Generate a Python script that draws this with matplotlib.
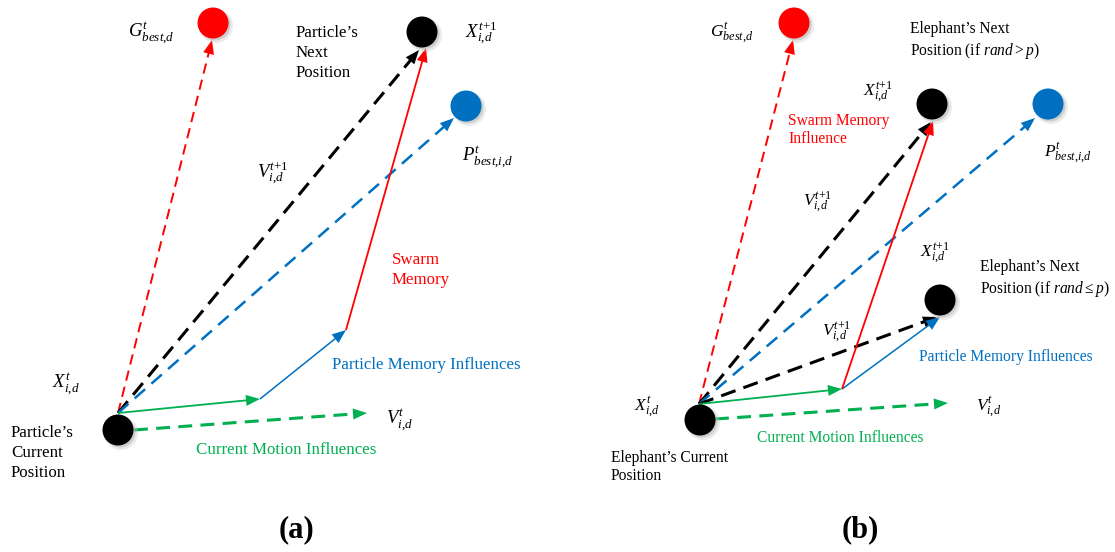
import matplotlib.pyplot as plt
import numpy as np
from matplotlib.patches import Circle, Polygon

plt.rcParams['font.family'] = 'Liberation Serif'
plt.rcParams['mathtext.fontset'] = 'custom'
plt.rcParams['mathtext.rm'] = 'Liberation Serif'
plt.rcParams['mathtext.it'] = 'Liberation Serif:italic'
plt.rcParams['mathtext.bf'] = 'Liberation Serif:bold'
plt.rcParams['lines.scale_dashes'] = False

RED = '#FF0000'
BLUE = '#0070C0'
GREEN = '#00B050'
BLACK = '#000000'

# ---- panel (a): PSO, pixel positions ----
a_nodes = {'current': (118, 430), 'gbest': (213, 23), 'next': (422, 32), 'pbest': (466, 106)}
a_node_colors = {'current': BLACK, 'gbest': RED, 'next': BLACK, 'pbest': BLUE}
a_origin = (118, 413)
a_inertia_end = (260, 399)
a_cognitive_end = (346, 330)
# (start, tip, color, dashed)
a_arrows = [
    (a_origin, (212, 40), RED, True),
    (a_origin, (419, 50), BLACK, True),
    (a_origin, (454, 118), BLUE, True),
    (a_origin, a_inertia_end, GREEN, False),
    (a_inertia_end, a_cognitive_end, BLUE, False),
    (a_cognitive_end, (426, 48), RED, False),
    ((134, 430), (367, 413), GREEN, True),
]

# ---- panel (b): EHO-style variant ----
b_nodes = {'current': (700, 420), 'gbest': (794, 23), 'next': (932, 104),
           'pbest': (1048, 104), 'next2': (940, 300)}
b_node_colors = {'current': BLACK, 'gbest': RED, 'next': BLACK, 'pbest': BLUE, 'next2': BLACK}
b_origin = (699, 404)
b_inertia_end = (842, 389)
b_arrows = [
    (b_origin, (793, 40), RED, True),
    (b_origin, (931, 122), BLACK, True),
    (b_origin, (1035, 118), BLUE, True),
    (b_origin, (937, 317), BLACK, True),
    (b_origin, b_inertia_end, GREEN, False),
    (b_inertia_end, (940, 317), BLUE, False),
    (b_inertia_end, (933, 121), RED, False),
    ((715, 419), (948, 403), GREEN, True),
]

# line widths / dash patterns per colour (points)
dash_style = {RED: (1.4, (7.5, 4.5)), BLACK: (2.2, (11, 6)), BLUE: (1.8, (10, 6)), GREEN: (2.2, (10, 6))}
solid_lw = {RED: 1.3, BLUE: 1.1, GREEN: 1.3}

# labels: (x_left, y_center, text, color, size)
a_labels = [
    (128, 33, r'$G^{t}_{best{,}d}$', BLACK, 13.5),
    (465, 33, r'$X^{t{+}1}_{i{,}d}$', BLACK, 13.5),
    (462, 157, r'$P^{t}_{best{,}i{,}d}$', BLACK, 13.5),
    (257, 173, r'$V^{t{+}1}_{i{,}d}$', BLACK, 13.5),
    (52, 384, r'$X^{t}_{i{,}d}$', BLACK, 13.5),
    (386, 420, r'$V^{t}_{i{,}d}$', BLACK, 13.5),
    (296, 53, 'Particle’s\nNext\nPosition', BLACK, 12.2),
    (392, 270, 'Swarm\nMemory', RED, 12.2),
    (332, 365, 'Particle Memory Influences', BLUE, 12.2),
    (196, 450, 'Current Motion Influences', GREEN, 12.2),
    (11, 453, 'Particle’s\nCurrent\nPosition', BLACK, 12.2),
]
b_labels = [
    (710, 33, r'$G^{t}_{best{,}d}$', BLACK, 12.5),
    (863, 92, r'$X^{t{+}1}_{i{,}d}$', BLACK, 12.5),
    (1044, 153, r'$P^{t}_{best{,}i{,}d}$', BLACK, 12.5),
    (803, 202, r'$V^{t{+}1}_{i{,}d}$', BLACK, 12.5),
    (920, 253, r'$X^{t{+}1}_{i{,}d}$', BLACK, 12.5),
    (822, 332, r'$V^{t{+}1}_{i{,}d}$', BLACK, 12.5),
    (634, 407, r'$X^{t}_{i{,}d}$', BLACK, 12.5),
    (976, 407, r'$V^{t}_{i{,}d}$', BLACK, 12.5),
    (910, 41, 'Elephant’s Next\nPosition (if $\\mathit{rand} > p$)', BLACK, 11.2),
    (788, 130, 'Swarm Memory\nInfluence', RED, 11.2),
    (980, 279, 'Elephant’s Next\nPosition (if $\\mathit{rand} \\leq p$)', BLACK, 11.2),
    (919, 357, 'Particle Memory Influences', BLUE, 11.2),
    (757, 438, 'Current Motion Influences', GREEN, 11.2),
    (611, 467, 'Elephant’s Current\nPosition', BLACK, 11.2),
]
panel_titles = [(297, 530, '(a)'), (860, 530, '(b)')]


def draw_arrow(ax, start, tip, color, dashed, head_len=14, head_w=11):
    start = np.asarray(start, float)
    tip = np.asarray(tip, float)
    d = tip - start
    u = d / np.hypot(*d)
    n = np.array([-u[1], u[0]])
    base = tip - head_len * u
    end = base + 2 * u
    if dashed:
        lw, dashes = dash_style[color]
        ax.plot([start[0], end[0]], [start[1], end[1]], color=color, lw=lw,
                dashes=dashes, dash_capstyle='butt', zorder=2)
    else:
        ax.plot([start[0], end[0]], [start[1], end[1]], color=color,
                lw=solid_lw[color], solid_capstyle='butt', zorder=2)
    ax.add_patch(Polygon([tip, base + n * head_w / 2, base - n * head_w / 2],
                         closed=True, facecolor=color, edgecolor='none', zorder=3))


def draw_node(ax, center, color, r=15.5):
    cx, cy = center
    ax.add_patch(Circle((cx + 3, cy + 3), r + 1.5, facecolor='#c8c8c8', edgecolor='none',
                        alpha=0.35, zorder=4))
    ax.add_patch(Circle((cx + 2, cy + 2), r, facecolor='#b0b0b0', edgecolor='none',
                        alpha=0.5, zorder=4))
    ax.add_patch(Circle((cx, cy), r, facecolor=color, edgecolor='none', zorder=5))


fig = plt.figure(figsize=(11.15, 5.52), dpi=100)
ax = fig.add_axes([0, 0, 1, 1])
ax.set_xlim(0, 1115)
ax.set_ylim(552, 0)
ax.axis('off')

for arrows in (a_arrows, b_arrows):
    for start, tip, color, dashed in arrows:
        draw_arrow(ax, start, tip, color, dashed)

for nodes, colors in ((a_nodes, a_node_colors), (b_nodes, b_node_colors)):
    for key, c in nodes.items():
        draw_node(ax, c, colors[key])

for labels, spacing in ((a_labels, 1.3), (b_labels, 1.22)):
    for x, y, s, color, size in labels:
        ax.text(x, y, s, color=color, fontsize=size, ha='left', va='center',
                linespacing=spacing, zorder=6)

for x, y, s in panel_titles:
    ax.text(x, y, s, fontsize=22, fontweight='bold', ha='center', va='center')

fig.savefig('out.png', dpi=100)
